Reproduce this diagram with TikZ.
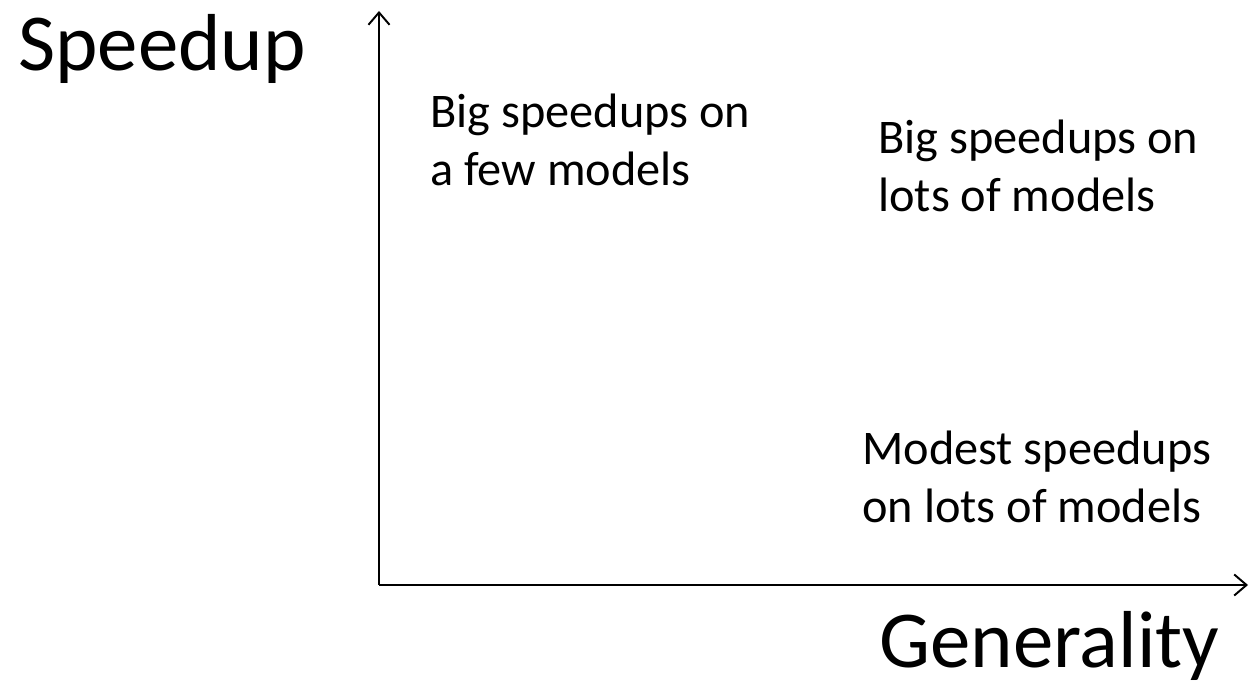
\documentclass[tikz,border=0pt]{standalone}
\usepackage{fontspec}
\setmainfont{Carlito}
\usetikzlibrary{arrows.meta}
\begin{document}
\begin{tikzpicture}[x=0.02cm, y=-0.02cm,
    axis/.style={line width=1.1pt, -{Straight Barb[length=7pt, width=12pt]}},
    bigtxt/.style={font=\fontsize{46}{55}\selectfont, inner sep=0pt, anchor=west},
    notetxt/.style={font=\fontsize{27.5}{33}\selectfont, inner sep=0pt, anchor=north west, align=left}]
    % Page frame
    \useasboundingbox (0,0) rectangle (1249,689);

    % Axes
    \coordinate (origin) at (379,585);
    \coordinate (ytip) at (379,11);
    \coordinate (xtip) at (1248,585);
    \draw[axis] (origin) -- (ytip);
    \draw[axis] (origin) -- (xtip);

    % Axis names
    \node[bigtxt] (speedup) at (18,49) {Speedup};
    \node[bigtxt] (generality) at (879,646) {Generality};

    % The three corners
    \node[notetxt] (fewmodels) at (430,94) {Big speedups on\\a few models};
    \node[notetxt] (lotsmodels) at (878,120) {Big speedups on\\lots of models};
    \node[notetxt] (modest) at (862,431) {Modest speedups\\on lots of models};
\end{tikzpicture}
\end{document}
